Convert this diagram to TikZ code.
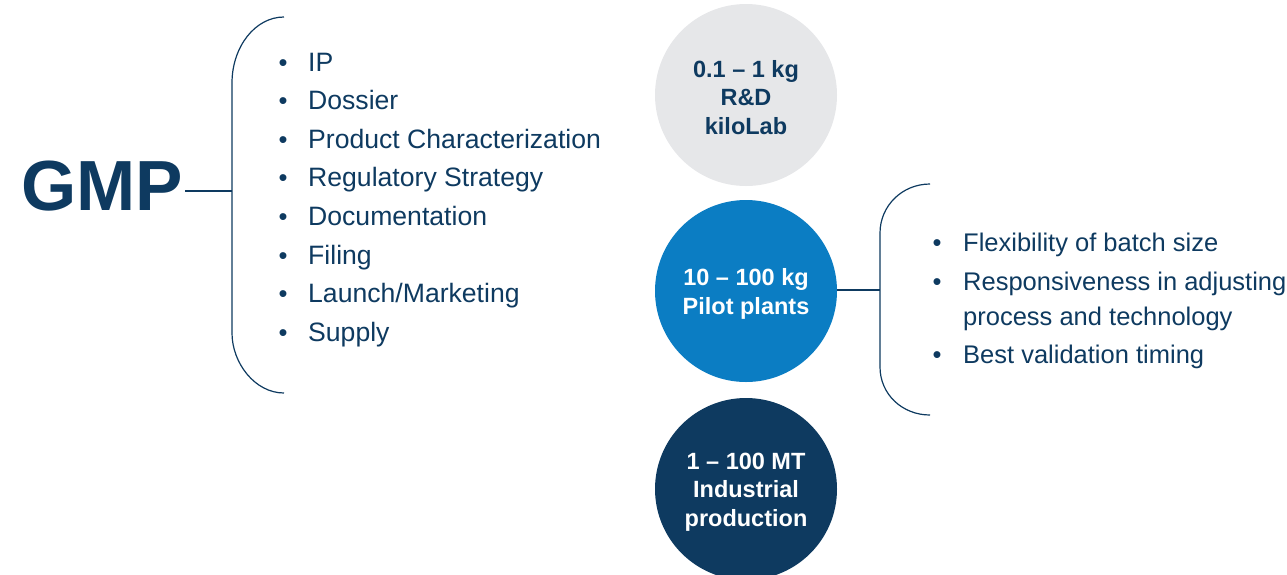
\documentclass[tikz,border=0pt]{standalone}
\usepackage{fontspec}
\setmainfont{Liberation Sans}
\usetikzlibrary{positioning}

\definecolor{gmpnavy}{HTML}{0E3A60}
\definecolor{pilotblue}{HTML}{0B7DC3}
\definecolor{labgray}{HTML}{E6E7E9}

\begin{document}
\begin{tikzpicture}[x=1pt, y=-1pt,
    stage/.style={circle, minimum size=182pt, inner sep=0pt},
    stagetext/.style={align=center, inner sep=0pt,
      font=\fontsize{23.5}{28.5}\selectfont\bfseries},
    item/.style={anchor=base west, text=gmpnavy, inner sep=0pt,
      font=\fontsize{25.5}{30}\selectfont},
    dot/.style={anchor=base, text=gmpnavy, inner sep=0pt,
      font=\fontsize{25.5}{30}\selectfont},
    brace/.style={draw=gmpnavy, line width=1.2pt}]
    \useasboundingbox (0,0) rectangle (1287,574);

    % GMP title
    \node[text=gmpnavy, inner sep=2pt, font=\fontsize{71}{71}\selectfont\bfseries] (gmp) at (102,186) {GMP};
    \coordinate (lbrace) at (232,191);
    \draw[brace] (gmp.east |- lbrace) -- (lbrace);

    % Left brace
    \draw[brace] (284,17) .. controls (255,17) and (232,47) .. (232,83) -- (232,333)
      .. controls (232,363) and (255,393) .. (284,393);

    % GMP items
    \foreach \txt [count=\i from 0] in {IP, Dossier, Product Characterization, Regulatory Strategy,
        Documentation, Filing, Launch/Marketing, Supply} {
      \node[dot] (ldot\i) at (283, 71+38.6*\i) {•};
      \node[item, font=\fontsize{26.6}{30}\selectfont] (litem\i) at (308, 71+38.6*\i) {\txt};
    }

    % Scale circles
    \node[stage, fill=labgray] (kilolab) at (746,95) {};
    \node[stagetext, text=gmpnavy] (kilolabtext) at ([yshift=-2.5pt]kilolab.center) {0.1 – 1 kg\\R\&D\\kiloLab};
    \node[stage, fill=pilotblue] (pilot) at (746,291) {};
    \node[stagetext, text=white] (pilottext) at ([yshift=-3pt]pilot.center) {10 – 100 kg\\Pilot plants};
    \node[stage, fill=gmpnavy] (industrial) at (746,489) {};
    \node[stagetext, text=white] (industrialtext) at ([yshift=-3pt]industrial.center) {1 – 100 MT\\Industrial\\production};

    % Pilot brace
    \coordinate (rbrace) at (880,290);
    \draw[brace] (pilot.east |- rbrace) -- (rbrace);
    \draw[brace] (930,184) .. controls (902,184) and (880,206) .. (880,233) -- (880,367)
      .. controls (880,394) and (902,415) .. (930,415);

    % Pilot items
    \node[dot] (rdot1) at (937,251) {•};
    \node[item] (ritem1) at (963,251) {Flexibility of batch size};
    \node[dot] (rdot2) at (937,290) {•};
    \node[item] (ritem2) at (963,290) {Responsiveness in adjusting};
    \node[item] (ritem2b) at (963,325) {process and technology};
    \node[dot] (rdot3) at (937,363) {•};
    \node[item] (ritem3) at (963,363) {Best validation timing};
\end{tikzpicture}
\end{document}
